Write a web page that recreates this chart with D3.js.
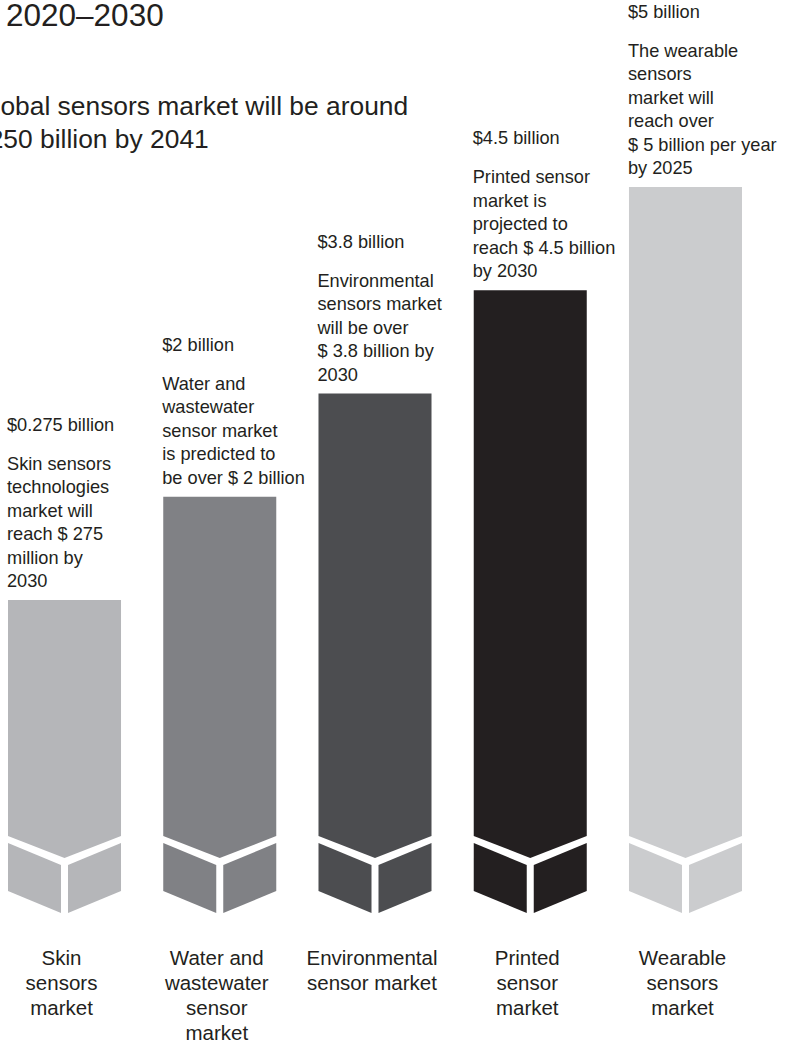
<!DOCTYPE html>
<html>
<head>
<meta charset="utf-8">
<script src="https://cdn.jsdelivr.net/npm/d3@7"></script>
<style>
  body { margin: 0; background: #fff; }
  svg { display: block; font-family: "Liberation Sans", Arial, Helvetica, sans-serif; }
</style>
</head>
<body>
<div id="chart"></div>
<script>
// data
var categories = ["Skin", "Water", "Environmental", "Printed", "Wearable"];
var values = [0.275, 2, 3.8, 4.5, 5]; // billion US$
var valueLabels = ["$0.275 billion", "$2 billion", "$3.8 billion", "$4.5 billion", "$5 billion"];
var descriptions = [
  ["Skin sensors", "technologies", "market will", "reach $ 275", "million by", "2030"],
  ["Water and", "wastewater", "sensor market", "is predicted to", "be over $ 2 billion"],
  ["Environmental", "sensors market", "will be over", "$ 3.8 billion by", "2030"],
  ["Printed sensor", "market is", "projected to", "reach $ 4.5 billion", "by 2030"],
  ["The wearable", "sensors", "market will", "reach over", "$ 5 billion per year", "by 2025"]
];
var categoryLabels = [
  ["Skin", "sensors", "market"],
  ["Water and", "wastewater", "sensor", "market"],
  ["Environmental", "sensor market"],
  ["Printed", "sensor", "market"],
  ["Wearable", "sensors", "market"]
];
var barColors = ["#b5b6b9", "#808185", "#4c4d50", "#231f20", "#cbccce"];
var titleText = "2020\u20132030";
var subtitleLines = ["Global sensors market will be around", "$250 billion by 2041"];

var width = 786, height = 1046;
var textColor = "#231f20";

var svg = d3.select("#chart").append("svg")
  .attr("width", width).attr("height", height);

// title and subtitle run off the page edge like the source
svg.append("text").attr("x", 6).attr("y", 26)
  .style("font-size", "31.5px").attr("fill", textColor).text(titleText);
var sub = svg.append("text").attr("y", 115)
  .style("font-size", "26.4px").attr("fill", textColor);
sub.selectAll("tspan").data(subtitleLines).enter().append("tspan")
  .attr("x", -26).attr("dy", (d, i) => i ? 33 : 0).text(d => d);

var x = d3.scaleBand().domain(categories).range([8, 742]).paddingInner(0.272).paddingOuter(0);
// bars step up evenly by rank, not by value
var y = d3.scalePoint().domain(values).range([600, 187]);

var chevTop = 836, chevDrop = 22, pieceTop = 843, baseY = 913, gap = 3.5;

var bars = svg.append("g").selectAll("g").data(categories).enter().append("g");

bars.append("path")
  .attr("fill", (d, i) => barColors[i])
  .attr("d", (d, i) => {
    var x0 = x(d), x1 = x(d) + x.bandwidth(), cx = (x0 + x1) / 2, t = y(values[i]);
    return `M${x0},${t}L${x1},${t}L${x1},${chevTop}L${cx},${chevTop + chevDrop}L${x0},${chevTop}Z`;
  });
bars.append("path")
  .attr("fill", (d, i) => barColors[i])
  .attr("d", (d, i) => {
    var x0 = x(d), cx = x(d) + x.bandwidth() / 2;
    return `M${x0},${pieceTop}L${cx - gap},${pieceTop + chevDrop}L${cx - gap},${baseY}L${x0},${baseY - chevDrop}Z`;
  });
bars.append("path")
  .attr("fill", (d, i) => barColors[i])
  .attr("d", (d, i) => {
    var x1 = x(d) + x.bandwidth(), cx = x(d) + x.bandwidth() / 2;
    return `M${x1},${pieceTop}L${cx + gap},${pieceTop + chevDrop}L${cx + gap},${baseY}L${x1},${baseY - chevDrop}Z`;
  });

// annotations above each bar
var lineH = 23.5;
bars.each(function(d, i) {
  var g = d3.select(this);
  var top = y(values[i]);
  var lines = descriptions[i];
  var lastBase = top - 13;
  var firstBase = lastBase - (lines.length - 1) * lineH;
  var tx = x(d) - 1;
  g.append("text").attr("x", tx).attr("y", firstBase - 39)
    .style("font-size", "18.2px").attr("fill", textColor).text(valueLabels[i]);
  g.append("text").attr("y", firstBase).style("font-size", "18.2px").attr("fill", textColor)
    .selectAll("tspan").data(lines).enter().append("tspan")
    .attr("x", tx).attr("dy", (l, j) => j ? lineH : 0).text(l => l);
  // category label under the bar
  g.append("text").attr("y", 965).attr("text-anchor", "middle")
    .style("font-size", "20.5px").attr("fill", textColor)
    .selectAll("tspan").data(categoryLabels[i]).enter().append("tspan")
    .attr("x", x(d) + x.bandwidth() / 2 - 3).attr("dy", (l, j) => j ? 25 : 0).text(l => l);
});
</script>
</body>
</html>
